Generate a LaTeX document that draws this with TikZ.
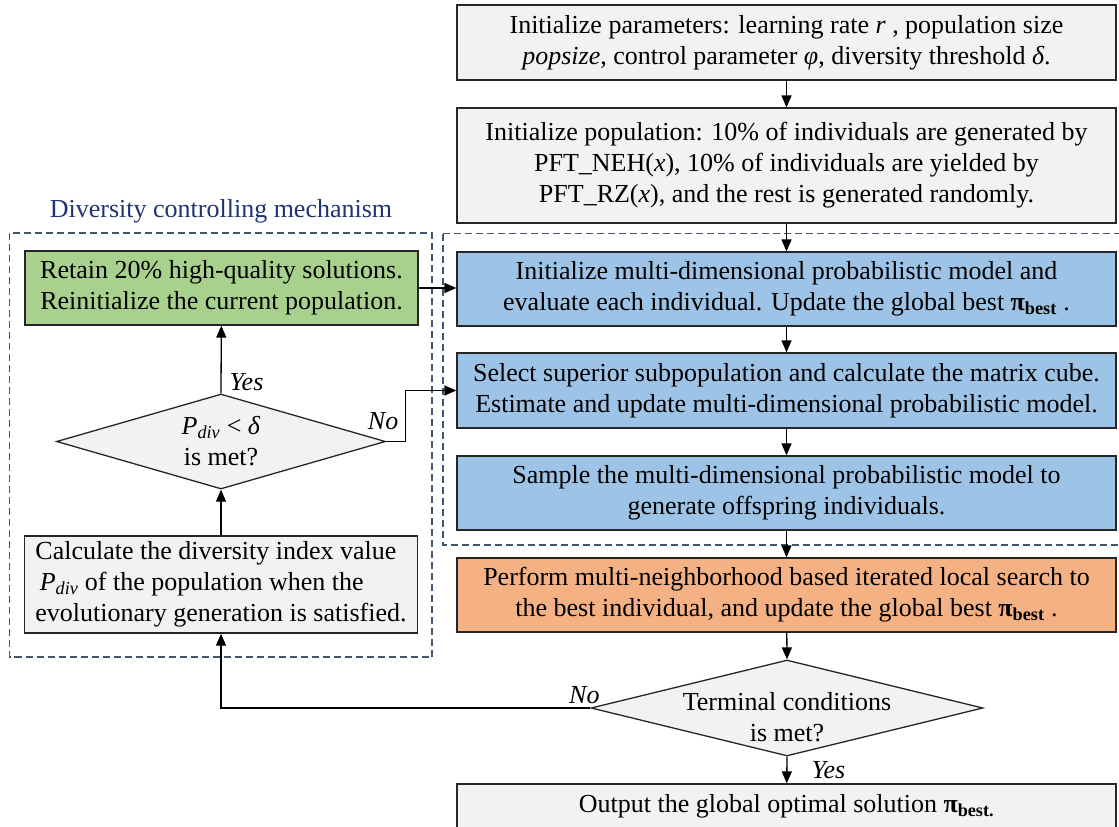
\documentclass[tikz,border=0pt]{standalone}
\usepackage{fontspec}
\setmainfont{LiberationSerif}[Extension=.ttf,UprightFont=*-Regular,BoldFont=*-Bold,ItalicFont=*-Italic,BoldItalicFont=*-BoldItalic]
\usetikzlibrary{arrows.meta,shapes.geometric}
\definecolor{boxgray}{HTML}{F2F2F2}
\definecolor{boxblue}{HTML}{9DC3E6}
\definecolor{boxgreen}{HTML}{A9D18E}
\definecolor{boxorange}{HTML}{F4B183}
\definecolor{frameblue}{HTML}{44546A}
\definecolor{titleblue}{HTML}{1F3470}
\newcommand{\pibest}[1]{\textbf{π\textsubscript{best#1}}}
\newcommand{\pdiv}{\textit{P}\textsubscript{\textit{div}}}
\begin{document}
\begin{tikzpicture}[x=1pt,y=-1pt,font=\fontsize{26}{31}\selectfont,
    box/.style={draw=black!85,line width=1.3pt,fill=boxgray,inner sep=2pt,align=center},
    wide/.style={box,minimum width=659pt},
    narrow/.style={box,minimum width=393pt},
    dia/.style={diamond,draw=black!85,line width=1.3pt,fill=boxgray,inner sep=0pt},
    frame/.style={draw=frameblue,line width=1.1pt,dash pattern=on 7pt off 4pt},
    lbl/.style={font=\fontsize{26}{31}\itshape,inner sep=2pt}]
  \useasboundingbox (0,0) rectangle (1119,827);
  % dashed frames
  \draw[frame] (9.5,233) rectangle (432,657);
  \draw[frame] (443,233.5) rectangle (1125,545);
  \node[text=titleblue] (title) at (221,211) {Diversity controlling mechanism};
  % main flow
  \draw
    (786.5,42.5) node[wide,minimum height=75pt] (init)
      {Initialize parameters: learning rate \textit{r} , population size\\
       \textit{popsize}, control parameter \textit{φ}, diversity threshold \textit{δ}.}
    (786.5,165.5) node[wide,minimum height=115pt] (pop)
      {Initialize population: 10\% of individuals are generated by\\
       PFT\_NEH(\textit{x}), 10\% of individuals are yielded by\\
       PFT\_RZ(\textit{x}), and the rest is generated randomly.}
    (786.5,289) node[wide,fill=boxblue,minimum height=74pt] (model)
      {Initialize multi-dimensional probabilistic model and\\
       evaluate each individual. Update the global best \pibest{} .}
    (786.5,390.5) node[wide,fill=boxblue,minimum height=75pt] (select)
      {Select superior subpopulation and calculate the matrix cube.\\
       Estimate and update multi-dimensional probabilistic model.}
    (786.5,493) node[wide,fill=boxblue,minimum height=74pt] (sample)
      {Sample the multi-dimensional probabilistic model to\\
       generate offspring individuals.}
    (786.5,595) node[wide,fill=boxorange,minimum height=74pt] (ils)
      {Perform multi-neighborhood based iterated local search to\\
       the best individual, and update the global best \pibest{} .}
    (787,708) node[dia,minimum width=392pt,minimum height=96pt] (term) {}
    (786.5,806) node[wide,minimum height=44pt] (out)
      {Output the global optimal solution \pibest{.}};
  \node[align=center] (termtxt) at (787,717) {Terminal conditions\\ is met?};
  % diversity controlling mechanism
  \draw
    (221.5,288) node[narrow,fill=boxgreen,minimum height=74pt] (retain)
      {Retain 20\% high-quality solutions.\\ Reinitialize the current population.}
    (221,441.5) node[dia,minimum width=329pt,minimum height=95pt] (divd) {}
    (221,584.5) node[narrow,align=left,minimum height=97pt] (calc)
      {Calculate the diversity index value\\
       \,\pdiv{} of the population when the\\
       evolutionary generation is satisfied.};
  \node[align=center] (divtxt) at (221,441) {\pdiv{} < \textit{δ}\\ is met?};
  \begin{scope}[line width=1.3pt,-{Triangle[length=12pt,width=10pt]}]
    \draw (init) -- (pop);
    \draw (pop) -- (model);
    \draw (model) -- (select);
    \draw (select) -- (sample);
    \draw (sample) -- (ils);
    \draw (ils) -- (term.north);
    \draw (term.south) -- node[lbl,right,xshift=22pt] (yes1) {Yes} (out);
    \draw (term.west) node[lbl,anchor=south,xshift=-6pt,yshift=2pt] (no1) {No} -| (calc.south);
    \draw (calc) -- (divd.south);
    \draw (divd.north) node[lbl,anchor=south west,xshift=6pt] (yes2) {Yes} -- (retain);
    \draw (divd.east) node[lbl,anchor=south,xshift=-3pt,yshift=9pt] (no2) {No} -- ++(19,0) |- (select.west);
    \draw (retain.east) -- (retain.east -| model.west);
  \end{scope}
\end{tikzpicture}
\end{document}
